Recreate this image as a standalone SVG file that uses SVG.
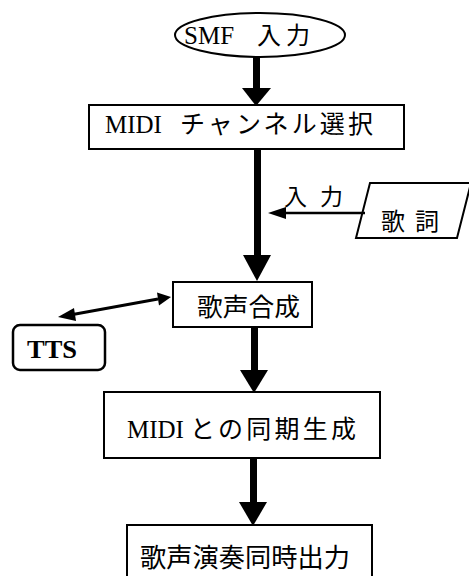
<svg xmlns="http://www.w3.org/2000/svg" width="469" height="576" viewBox="0 0 469 576">
<style>
.box{fill:#fff;stroke:#000;stroke-width:2}
.t{font-family:"Liberation Serif","Noto Sans CJK JP",serif;fill:#000}
</style>
<rect width="469" height="576" fill="#fff"/>
<g id="smf">
<ellipse class="box" cx="260" cy="35" rx="85" ry="22"/>
<text class="t" x="184" y="44" font-size="25">SMF</text>
<text class="t" x="257" y="44" font-size="24" textLength="53" lengthAdjust="spacing">入力</text>
</g>
<g id="midi">
<rect class="box" x="89" y="105" width="315" height="44"/>
<text class="t" x="105" y="133" font-size="25">MIDI</text>
<text class="t" x="180" y="133" font-size="25" textLength="193" lengthAdjust="spacing">チャンネル選択</text>
</g>
<g id="lyrics">
<polygon class="box" points="370,183 471,183 457,238 356,238"/>
<text class="t" x="381" y="230" font-size="24" textLength="58" lengthAdjust="spacing">歌詞</text>
</g>
<g id="synth">
<rect class="box" x="173" y="282" width="139" height="45"/>
<text class="t" x="197" y="316" font-size="25" textLength="103" lengthAdjust="spacingAndGlyphs">歌声合成</text>
</g>
<g id="tts">
<rect x="13" y="325" width="92" height="45" rx="7" fill="#fff" stroke="#000" stroke-width="2.5"/>
<text class="t" x="27" y="358" font-size="26" font-weight="bold" textLength="50" lengthAdjust="spacingAndGlyphs">TTS</text>
</g>
<g id="sync">
<rect class="box" x="104" y="392" width="276" height="66"/>
<text class="t" x="127" y="438" font-size="25">MIDI</text>
<text class="t" x="190" y="438" font-size="25" textLength="166" lengthAdjust="spacing">との同期生成</text>
</g>
<g id="output">
<rect class="box" x="127" y="525" width="245" height="60"/>
<text class="t" x="140" y="567" font-size="26" textLength="210" lengthAdjust="spacingAndGlyphs">歌声演奏同時出力</text>
</g>
<g id="connectors">
<rect x="253" y="57" width="7" height="32"/>
<polygon points="242,88 271,88 256,106"/>
<rect x="254" y="149" width="7" height="107"/>
<polygon points="243,255 271,255 257,281"/>
<rect x="251" y="327" width="7" height="44"/>
<polygon points="240,370 268,370 254,393"/>
<rect x="250" y="458" width="7" height="45"/>
<polygon points="239,502 267,502 253,526"/>
<line x1="365" y1="213" x2="284" y2="213" stroke="#000" stroke-width="2.5"/>
<polygon points="268,213 286,207 286,219"/>
<text class="t" x="284" y="205" font-size="23" textLength="59" lengthAdjust="spacing">入力</text>
<line x1="70" y1="315" x2="158" y2="299" stroke="#000" stroke-width="3"/>
<polygon points="58,317 74,308 76,321"/>
<polygon points="171,297 157,292.5 159,305.5"/>
</g>
</svg>
